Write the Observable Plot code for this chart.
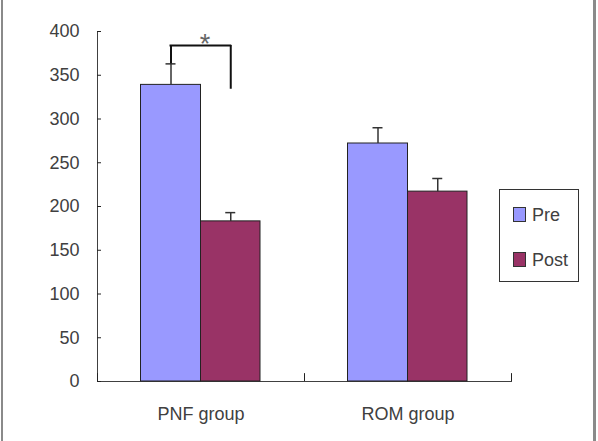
<!DOCTYPE html>
<html>
<head>
<meta charset="utf-8">
<script src="https://cdn.jsdelivr.net/npm/d3@7"></script>
<script src="https://cdn.jsdelivr.net/npm/@observablehq/plot@0.6"></script>
<style>
  html, body { margin: 0; padding: 0; background: #fff; }
  #wrap { position: relative; width: 598px; height: 441px; overflow: hidden; font-family: "Liberation Sans", Arial, sans-serif; }
  #wrap svg { position: absolute; left: 0; top: 0; }
  .vborder { position: absolute; top: 0; height: 441px; background: #8a8a8a; }
  #legend { position: absolute; left: 499px; top: 189px; width: 80px; height: 93px; border: 1px solid #333; background: #fff; box-sizing: border-box; }
  .sw { position: absolute; left: 13px; width: 13px; height: 15px; box-sizing: border-box; border: 1px solid #333; }
  .lt { position: absolute; left: 32px; font-size: 18px; line-height: 20px; color: #404040; }
</style>
</head>
<body>
<div id="wrap">
  <div class="vborder" style="left:1px;width:2px"></div>
  <div class="vborder" style="left:593px;width:3px"></div>
</div>
<script>
// ---- data ----
const groups = ["PNF group", "ROM group"];
const series = ["Pre", "Post"];
const seriesColors = ["#9999FF", "#993366"];
const preValues = [339, 272];
const preErrors = [24, 18];
const postValues = [183, 217];
const postErrors = [10, 15];
const yTicks = [0, 50, 100, 150, 200, 250, 300, 350, 400];
// significance bracket (PNF group, Pre vs Post)
const sigGroup = "PNF group";
const sigTop = [384];
const sigLeftEnd = [363];
const sigRightEnd = [334];
const sigLabel = ["*"];
const sigLabelY = [385];

const rows = groups.flatMap((g, i) => [
  {group: g, series: "Pre", value: preValues[i], err: preErrors[i]},
  {group: g, series: "Post", value: postValues[i], err: postErrors[i]}
]);

// ---- layout (styles only) ----
const BW = 207; // band width in px given margins
const layout = {
  Pre:  {insetLeft: 43.5, insetRight: 103.5, center: 73.5},
  Post: {insetLeft: 103.5, insetRight: 44, center: 133.25}
};
const ink = "#222";
const marks = [];
for (const s of series) {
  const L = layout[s];
  const d = rows.filter(r => r.series === s);
  const dx = L.center - BW / 2;
  marks.push(
    Plot.barY(d, {x: "group", y1: 0, y2: "value", fill: "series", stroke: ink, strokeWidth: 1,
                  insetLeft: L.insetLeft, insetRight: L.insetRight}),
    Plot.ruleX(d, {x: "group", y1: "value", y2: r => r.value + r.err, dx, stroke: "#333", strokeWidth: 1.5}),
    Plot.tickY(d, {x: "group", y: r => r.value + r.err, stroke: "#333", strokeWidth: 1.5,
                   insetLeft: L.center - 5, insetRight: BW - L.center - 5})
  );
}
// inward y ticks
marks.push(Plot.tickY(yTicks, {y: d => d, x: () => groups[0], insetRight: BW - 4, stroke: ink, strokeWidth: 1}));
// inward x ticks at category boundaries
const xTickLen = [0, 9];
marks.push(Plot.ruleX(groups, {x: d => d, dx: -BW / 2, y1: xTickLen[0], y2: xTickLen[1], stroke: ink, strokeWidth: 1}));
marks.push(Plot.ruleX([groups[groups.length - 1]], {x: d => d, dx: BW / 2, y1: xTickLen[0], y2: xTickLen[1], stroke: ink, strokeWidth: 1}));
// significance bracket
const preC = layout.Pre.center, postC = layout.Post.center;
marks.push(Plot.ruleX(sigTop, {x: () => sigGroup, y1: (d, i) => sigLeftEnd[i], y2: d => d, dx: preC - BW / 2, stroke: "#111", strokeWidth: 2}));
marks.push(Plot.ruleX(sigTop, {x: () => sigGroup, y1: (d, i) => sigRightEnd[i], y2: d => d, dx: postC - BW / 2, stroke: "#111", strokeWidth: 2}));
marks.push(Plot.tickY(sigTop, {x: () => sigGroup, y: d => d, insetLeft: preC - 1, insetRight: BW - postC - 1, stroke: "#111", strokeWidth: 2}));
marks.push(Plot.text(sigLabel, {x: () => sigGroup, y: (d, i) => sigLabelY[i], text: d => d, dx: 4, fontSize: 27, fill: "#666"}));

const chart = Plot.plot({
  width: 598, height: 441,
  marginLeft: 97, marginRight: 87, marginTop: 31, marginBottom: 60,
  style: {fontFamily: "'Liberation Sans', Arial, sans-serif", fontSize: "18px", color: "#404040", background: "transparent", overflow: "visible"},
  x: {domain: groups, padding: 0, line: true, tickSize: 0, tickPadding: 26, label: null},
  y: {domain: [0, 400], ticks: yTicks, tickSize: 0, tickPadding: 18, line: true, label: null},
  color: {domain: series, range: seriesColors},
  marks
});
const wrap = document.getElementById("wrap");
wrap.insertBefore(chart, wrap.firstChild);

// legend
const legend = document.createElement("div");
legend.id = "legend";
const tops = [17, 62];
series.forEach((s, i) => {
  const sw = document.createElement("div");
  sw.className = "sw"; sw.style.top = tops[i] + "px"; sw.style.background = seriesColors[i];
  const t = document.createElement("div");
  t.className = "lt"; t.style.top = (tops[i] - 2) + "px"; t.textContent = s;
  legend.appendChild(sw); legend.appendChild(t);
});
wrap.appendChild(legend);
</script>
</body>
</html>
